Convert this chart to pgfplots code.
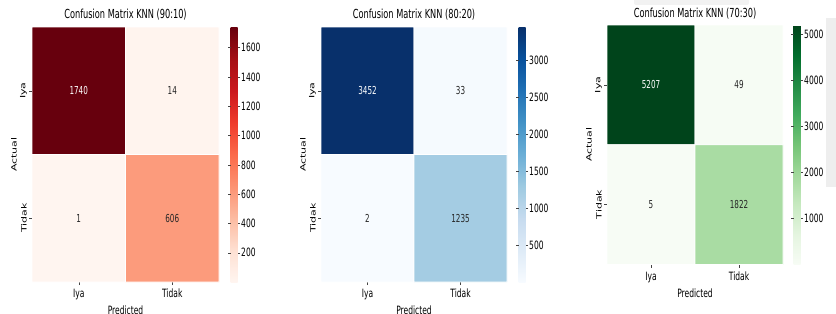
\documentclass[border=0pt]{standalone}
\usepackage{pgfplots}
\pgfplotsset{compat=1.18}
\usepackage{fontspec}
\setmainfont{DejaVu Sans}[FakeStretch=0.66]
\newfontfamily\plainf{DejaVu Sans}
\definecolor{annot}{HTML}{262626}
\definecolor{tk}{HTML}{444444}
\pgfkeys{/pgf/number format/.cd,1000 sep={},assume math mode=true}
\pgfplotsset{
 every axis title shift=0pt,
 colormap={reds}{rgb255=(255,245,240) rgb255=(254,224,210) rgb255=(252,187,161) rgb255=(252,146,114) rgb255=(251,106,74) rgb255=(239,59,44) rgb255=(203,24,29) rgb255=(165,15,21) rgb255=(103,0,13)},
 colormap={blues}{rgb255=(247,251,255) rgb255=(222,235,247) rgb255=(198,219,239) rgb255=(158,202,225) rgb255=(107,174,214) rgb255=(66,146,198) rgb255=(33,113,181) rgb255=(8,81,156) rgb255=(8,48,107)},
 colormap={greens}{rgb255=(247,252,245) rgb255=(229,245,224) rgb255=(199,233,192) rgb255=(161,217,155) rgb255=(116,196,118) rgb255=(65,171,93) rgb255=(35,139,69) rgb255=(0,109,44) rgb255=(0,68,27)},
 cm/.style={
  scale only axis, anchor=south west,
  xmin=-0.5,xmax=1.5,ymin=-0.5,ymax=1.5, y dir=reverse,
  axis line style={draw=none},
  xtick={0,1}, ytick={0,1},
  xticklabels={Iya,Tidak},
  yticklabels={\scalebox{1}[0.66]{Iya},\scalebox{1}[0.66]{Tidak}},
  tick align=outside, major tick length=3bp,
  tick style={draw=tk, line width=0.5pt},
  xtick pos=lower, ytick pos=left,
  font=\fontsize{11.5}{13}\selectfont,
  xticklabel style={anchor=north, inner sep=0pt, yshift=-4bp},
  yticklabel style={rotate=90, anchor=south, inner sep=0pt, yshift=2bp, font=\plainf\fontsize{11}{13}\selectfont},
  xlabel={Predicted},
  xlabel style={at={(axis description cs:0.5,0)}, anchor=north, inner sep=0pt, yshift=-24bp},
  ylabel={\scalebox{1}[0.66]{\plainf\fontsize{11}{13}\selectfont Actual}},
  ylabel style={at={(axis description cs:0,0.5)}, anchor=center, inner sep=0pt, yshift=18bp},
  title style={at={(axis description cs:0.5,1)}, anchor=center, inner sep=0pt, yshift=12bp, font=\fontsize{12.5}{14}\selectfont},
  colorbar,
 },
 cbar/.style={at={(parent axis.north east)}, anchor=north west, xshift=3bp, width=7bp,
  axis line style={draw=none}, tick align=outside, major tick length=2.5bp,
  tick style={draw=tk, line width=0.5pt},
  yticklabel style={font=\fontsize{11.5}{13}\selectfont, inner sep=1pt}},
 lblw/.style={draw=none, nodes near coords, point meta=explicit symbolic,
  every node near coord/.append style={anchor=center, text=white, font=\fontsize{11}{13}\selectfont}},
 lblk/.style={draw=none, nodes near coords, point meta=explicit symbolic,
  every node near coord/.append style={anchor=center, text=annot, font=\fontsize{11}{13}\selectfont}},
}
\begin{document}
\begin{tikzpicture}[x=1bp,y=1bp]
\useasboundingbox (0,0) rectangle (836,313);
\fill[gray!13] (826,126) rectangle (836,295);
\fill[gray!10, rounded corners=2] (634,308) rectangle (749,316);
% Panel 1
\begin{axis}[cm, at={(32bp,31bp)}, width=187bp, height=255bp,
  title={Confusion Matrix KNN (90:10)}, colormap name=reds,
  point meta min=1, point meta max=1740,
  colorbar style={cbar, ytick={200,400,...,1600}}]
\addplot[matrix plot*, mesh/cols=2, point meta=explicit, draw=white, line width=0.6pt]
  table[meta=c, row sep=\\] {x y c\\ 0 0 1740\\ 1 0 14\\ 0 1 1\\ 1 1 606\\};
\addplot[lblw] table[meta=l, row sep=\\] {x y l\\ 0 0 1740\\};
\addplot[lblk] table[meta=l, row sep=\\] {x y l\\ 1 0 14\\ 0 1 1\\ 1 1 606\\};
\end{axis}
% Panel 2
\begin{axis}[cm, at={(321bp,31bp)}, width=186bp, height=255bp,
  title={Confusion Matrix KNN (80:20)}, colormap name=blues,
  point meta min=2, point meta max=3452,
  colorbar style={cbar, ytick={500,1000,...,3000}}]
\addplot[matrix plot*, mesh/cols=2, point meta=explicit, draw=white, line width=0.6pt]
  table[meta=c, row sep=\\] {x y c\\ 0 0 3452\\ 1 0 33\\ 0 1 2\\ 1 1 1235\\};
\addplot[lblw] table[meta=l, row sep=\\] {x y l\\ 0 0 3452\\};
\addplot[lblk] table[meta=l, row sep=\\] {x y l\\ 1 0 33\\ 0 1 2\\ 1 1 1235\\};
\end{axis}
% Panel 3
\begin{axis}[cm, at={(607bp,48.5bp)}, width=176bp, height=239.5bp,
  title={Confusion Matrix KNN (70:30)}, colormap name=greens,
  title style={yshift=-1bp},
  point meta min=5, point meta max=5207,
  colorbar style={cbar, xshift=-1bp, ytick={1000,2000,...,5000}}]
\addplot[matrix plot*, mesh/cols=2, point meta=explicit, draw=white, line width=0.6pt]
  table[meta=c, row sep=\\] {x y c\\ 0 0 5207\\ 1 0 49\\ 0 1 5\\ 1 1 1822\\};
\addplot[lblw] table[meta=l, row sep=\\] {x y l\\ 0 0 5207\\};
\addplot[lblk] table[meta=l, row sep=\\] {x y l\\ 1 0 49\\ 0 1 5\\ 1 1 1822\\};
\end{axis}
\end{tikzpicture}
\end{document}
